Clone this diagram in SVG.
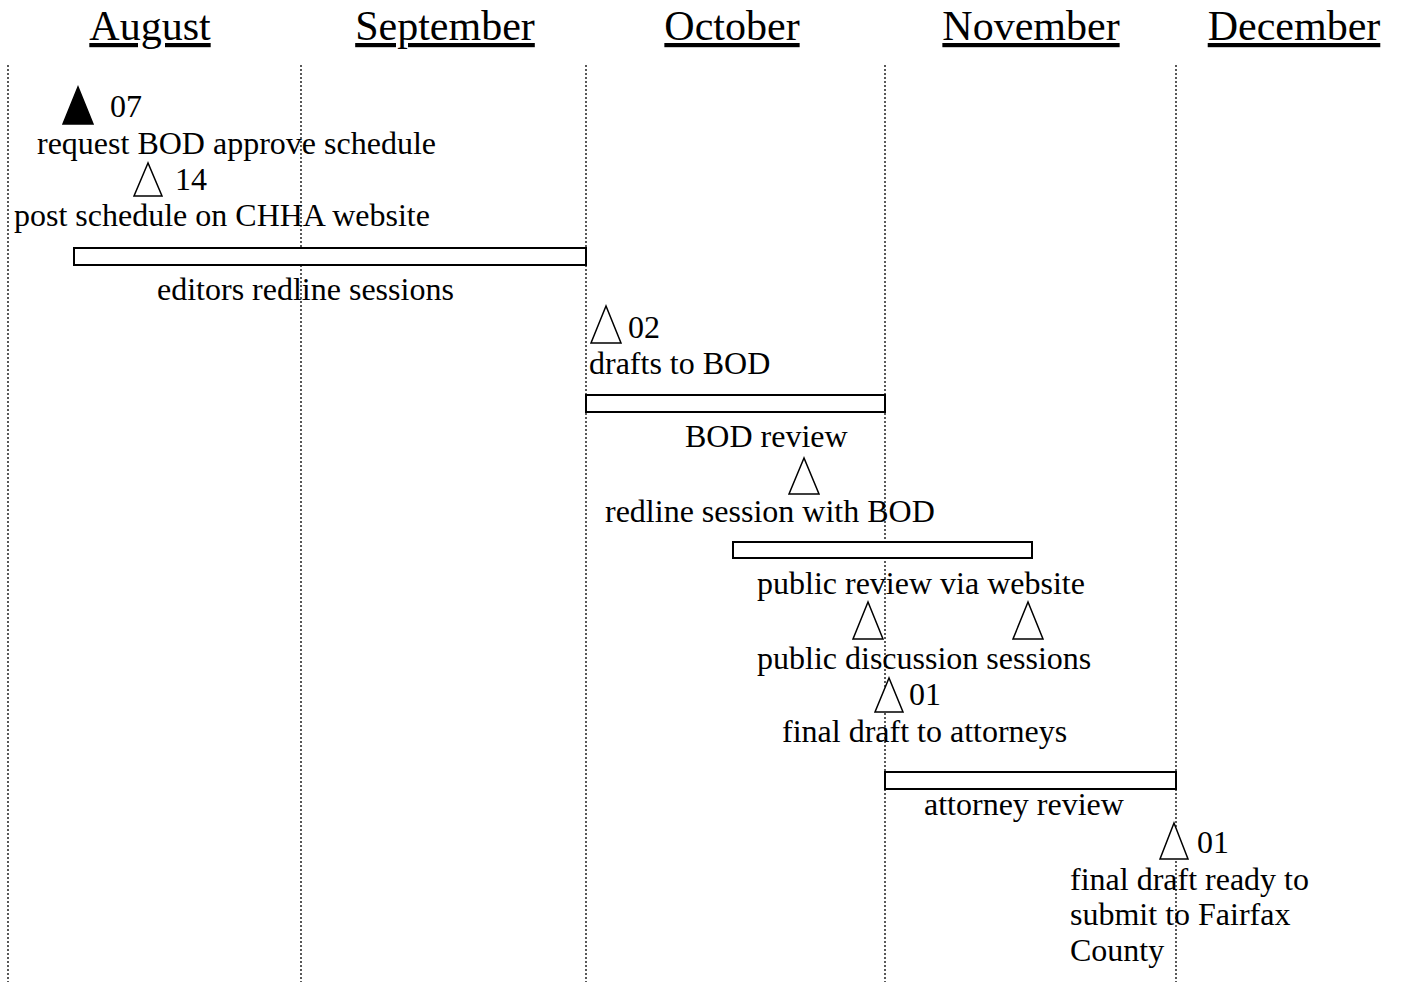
<svg xmlns="http://www.w3.org/2000/svg" width="1401" height="982" viewBox="0 0 1401 982">
<style>
text{font-family:"Liberation Serif","Times New Roman",serif;font-size:32px;fill:#000}
.m{font-size:42px;text-decoration:underline}
.grid line{stroke:#000;stroke-width:1.3;stroke-dasharray:2 2}
.bar{fill:#fff;stroke:#000;stroke-width:2}
.tri{fill:#fff;stroke:#000;stroke-width:1.5}
.trif{fill:#000;stroke:#000;stroke-width:1.5}
</style>
<rect width="1401" height="982" fill="#fff"/>
<g id="months">
<text class="m" x="150" y="40" text-anchor="middle">August</text>
<text class="m" x="445" y="40" text-anchor="middle">September</text>
<text class="m" x="732" y="40" text-anchor="middle">October</text>
<text class="m" x="1031" y="40" text-anchor="middle">November</text>
<text class="m" x="1294" y="40" text-anchor="middle">December</text>
</g>
<g id="grid" class="grid">
<line x1="8" y1="65" x2="8" y2="982"/>
<line x1="301" y1="65" x2="301" y2="982"/>
<line x1="586" y1="65" x2="586" y2="982"/>
<line x1="885" y1="65" x2="885" y2="982"/>
<line x1="1176" y1="65" x2="1176" y2="982"/>
</g>
<g id="n1"><polygon class="trif" points="78,87 63,124 93,124"/><text x="110" y="117">07</text><text x="37" y="154">request BOD approve schedule</text></g>
<g id="n2"><polygon class="tri" points="148,163 134,196 162,196"/><text x="175" y="190">14</text><text x="14" y="226">post schedule on CHHA website</text></g>
<g id="n3"><rect class="bar" x="74" y="248" width="512" height="17"/><text x="157" y="300">editors redline sessions</text></g>
<g id="n4"><polygon class="tri" points="606,306 591,343 621,343"/><text x="628" y="338">02</text><text x="589" y="374">drafts to BOD</text></g>
<g id="n5"><rect class="bar" x="586" y="395" width="299" height="17"/><text x="685" y="447">BOD review</text></g>
<g id="n6"><polygon class="tri" points="804,458 789,494 819,494"/><text x="605" y="522">redline session with BOD</text></g>
<g id="n7"><rect class="bar" x="733" y="542" width="299" height="16"/><text x="757" y="594">public review via website</text></g>
<g id="n8"><polygon class="tri" points="868,602 853,639 883,639"/><polygon class="tri" points="1028,602 1013,639 1043,639"/><text x="757" y="669">public discussion sessions</text></g>
<g id="n9"><polygon class="tri" points="889,678 875,712 903,712"/><text x="909" y="705">01</text><text x="782" y="742">final draft to attorneys</text></g>
<g id="n10"><rect class="bar" x="885" y="772" width="291" height="17"/><text x="924" y="815">attorney review</text></g>
<g id="n11"><polygon class="tri" points="1174,823 1160,859 1188,859"/><text x="1197" y="853">01</text><text x="1070" y="890">final draft ready to</text><text x="1070" y="925">submit to Fairfax</text><text x="1070" y="961">County</text></g>
</svg>
